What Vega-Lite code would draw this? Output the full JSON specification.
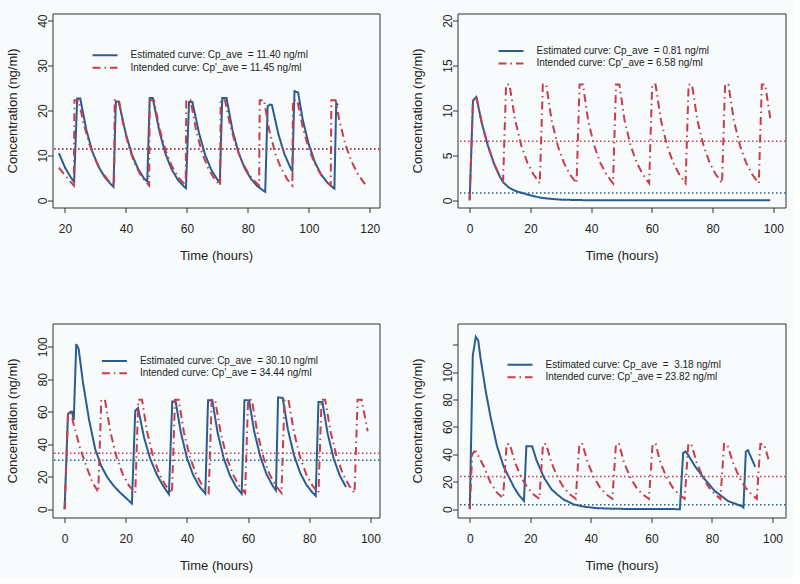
{
  "$schema": "https://vega.github.io/schema/vega-lite/v6.json",
  "background": "#f8fbfc",
  "padding": {"left": 5.5, "top": 12.5, "right": 5, "bottom": 5},
  "columns": 2,
  "spacing": {"row": 116, "column": 78},
  "bounds": "flush",
  "resolve": {
    "scale": {"color": "independent", "strokeDash": "independent", "x": "independent", "y": "independent"},
    "legend": {"color": "independent", "strokeDash": "independent"}
  },
  "datasets": {
    "p1": [
      {"s":"est","t":18,"c":10.5},{"s":"est","t":20,"c":7.3},{"s":"est","t":22,"c":5.0},{"s":"est","t":23,"c":4.1},{"s":"est","t":24,"c":22.7},{"s":"est","t":25,"c":22.7},{"s":"est","t":27,"c":15.7},{"s":"est","t":29,"c":10.8},{"s":"est","t":31,"c":7.5},{"s":"est","t":33,"c":5.2},{"s":"est","t":35,"c":3.6},{"s":"est","t":35.9,"c":3.0},{"s":"est","t":36.7,"c":22.0},{"s":"est","t":37.6,"c":22.0},{"s":"est","t":40,"c":14.7},{"s":"est","t":42,"c":10.1},{"s":"est","t":44,"c":7.0},{"s":"est","t":46,"c":4.8},{"s":"est","t":47.0,"c":4.2},{"s":"est","t":47.8,"c":22.8},{"s":"est","t":48.8,"c":22.8},{"s":"est","t":51,"c":15.3},{"s":"est","t":53,"c":10.3},{"s":"est","t":55,"c":6.9},{"s":"est","t":57,"c":4.6},{"s":"est","t":59,"c":3.1},{"s":"est","t":59.7,"c":2.7},{"s":"est","t":60.7,"c":21.9},{"s":"est","t":61.8,"c":21.9},{"s":"est","t":64,"c":14.9},{"s":"est","t":66,"c":10.1},{"s":"est","t":68,"c":6.8},{"s":"est","t":70,"c":4.6},{"s":"est","t":70.8,"c":4.0},{"s":"est","t":71.6,"c":22.8},{"s":"est","t":73,"c":22.8},{"s":"est","t":75,"c":15.5},{"s":"est","t":77,"c":10.5},{"s":"est","t":79,"c":7.1},{"s":"est","t":81,"c":4.8},{"s":"est","t":83,"c":3.2},{"s":"est","t":85,"c":2.2},{"s":"est","t":85.7,"c":1.9},{"s":"est","t":86.5,"c":21.0},{"s":"est","t":87.2,"c":21.3},{"s":"est","t":87.9,"c":21.2},{"s":"est","t":90,"c":14.8},{"s":"est","t":92,"c":10.3},{"s":"est","t":94,"c":7.2},{"s":"est","t":94.6,"c":6.5},{"s":"est","t":95.3,"c":24.3},{"s":"est","t":96.5,"c":24.0},{"s":"est","t":98,"c":18.0},{"s":"est","t":100,"c":12.4},{"s":"est","t":102,"c":8.5},{"s":"est","t":104,"c":5.8},{"s":"est","t":106,"c":4.0},{"s":"est","t":108,"c":2.8},{"s":"est","t":108.4,"c":2.6},{"s":"est","t":109,"c":21.6},{"s":"est","t":109.6,"c":21.2},
      {"s":"int","t":18,"c":7.3},{"s":"int","t":20,"c":5.6},{"s":"int","t":22,"c":4.0},{"s":"int","t":22.9,"c":3.3},{"s":"int","t":23.1,"c":22.3},{"s":"int","t":24.5,"c":22.3},{"s":"int","t":26,"c":17.4},{"s":"int","t":28,"c":12.5},{"s":"int","t":30,"c":9.0},{"s":"int","t":32,"c":6.4},{"s":"int","t":34,"c":4.6},{"s":"int","t":36.1,"c":3.3},{"s":"int","t":36.3,"c":22.3},{"s":"int","t":37.7,"c":22.3},{"s":"int","t":39,"c":17.3},{"s":"int","t":41,"c":11.8},{"s":"int","t":43,"c":8.0},{"s":"int","t":45,"c":5.4},{"s":"int","t":47.6,"c":3.3},{"s":"int","t":47.8,"c":22.3},{"s":"int","t":49.2,"c":22.3},{"s":"int","t":51,"c":16.0},{"s":"int","t":53,"c":11.1},{"s":"int","t":55,"c":7.7},{"s":"int","t":57,"c":5.3},{"s":"int","t":59.6,"c":3.3},{"s":"int","t":59.8,"c":22.3},{"s":"int","t":61.2,"c":22.3},{"s":"int","t":63,"c":15.6},{"s":"int","t":65,"c":10.5},{"s":"int","t":67,"c":7.1},{"s":"int","t":69,"c":4.8},{"s":"int","t":70.9,"c":3.3},{"s":"int","t":71.1,"c":22.3},{"s":"int","t":72.5,"c":22.3},{"s":"int","t":74,"c":17.3},{"s":"int","t":76,"c":12.3},{"s":"int","t":78,"c":8.7},{"s":"int","t":80,"c":6.2},{"s":"int","t":82,"c":4.4},{"s":"int","t":83.7,"c":3.3},{"s":"int","t":83.9,"c":22.3},{"s":"int","t":85.3,"c":22.3},{"s":"int","t":87,"c":15.7},{"s":"int","t":89,"c":10.4},{"s":"int","t":91,"c":7.0},{"s":"int","t":93,"c":4.6},{"s":"int","t":94.6,"c":3.3},{"s":"int","t":94.8,"c":22.3},{"s":"int","t":96.2,"c":22.3},{"s":"int","t":98,"c":16.3},{"s":"int","t":100,"c":11.5},{"s":"int","t":102,"c":8.1},{"s":"int","t":104,"c":5.7},{"s":"int","t":106,"c":4.0},{"s":"int","t":107.2,"c":3.3},{"s":"int","t":107.4,"c":22.3},{"s":"int","t":108.8,"c":22.3},{"s":"int","t":110,"c":17.9},{"s":"int","t":112,"c":12.4},{"s":"int","t":114,"c":8.7},{"s":"int","t":116,"c":6.0},{"s":"int","t":118,"c":4.0},{"s":"int","t":118.5,"c":3.6}
    ],
    "a1": [{"s":"est","c":11.40},{"s":"int","c":11.45}],
    "p2": [
      {"s":"est","t":0,"c":0},{"s":"est","t":1.1,"c":11.1},{"s":"est","t":2.2,"c":11.5},{"s":"est","t":4,"c":8.6},{"s":"est","t":6,"c":6.1},{"s":"est","t":8,"c":4.1},{"s":"est","t":10,"c":2.6},{"s":"est","t":11.2,"c":1.95},{"s":"est","t":13,"c":1.4},{"s":"est","t":15,"c":1.05},{"s":"est","t":18,"c":0.75},{"s":"est","t":20,"c":0.55},{"s":"est","t":23,"c":0.32},{"s":"est","t":26,"c":0.18},{"s":"est","t":30,"c":0.08},{"s":"est","t":35,"c":0.03},{"s":"est","t":40,"c":0.01},{"s":"est","t":45,"c":0},{"s":"est","t":99,"c":0},
      {"s":"int","t":0,"c":0},{"s":"int","t":1.1,"c":11.1},{"s":"int","t":2.2,"c":11.5},{"s":"int","t":4,"c":8.6},{"s":"int","t":6,"c":6.1},{"s":"int","t":8,"c":4.1},{"s":"int","t":10,"c":2.6},{"s":"int","t":11,"c":2.1},{"s":"int","t":12,"c":12.9},{"s":"int","t":13.1,"c":12.9},{"s":"int","t":15,"c":8.9},{"s":"int","t":17,"c":6.1},{"s":"int","t":19,"c":4.2},{"s":"int","t":21,"c":2.9},{"s":"int","t":23.1,"c":1.9},{"s":"int","t":24.1,"c":12.9},{"s":"int","t":25.2,"c":12.9},{"s":"int","t":27,"c":8.9},{"s":"int","t":29,"c":6.1},{"s":"int","t":31,"c":4.2},{"s":"int","t":33,"c":2.9},{"s":"int","t":35.2,"c":1.9},{"s":"int","t":36.2,"c":12.9},{"s":"int","t":37.3,"c":12.9},{"s":"int","t":39,"c":8.9},{"s":"int","t":41,"c":6.1},{"s":"int","t":43,"c":4.2},{"s":"int","t":45,"c":2.9},{"s":"int","t":47.2,"c":1.9},{"s":"int","t":48.2,"c":12.9},{"s":"int","t":49.3,"c":12.9},{"s":"int","t":51,"c":8.9},{"s":"int","t":53,"c":6.1},{"s":"int","t":55,"c":4.2},{"s":"int","t":57,"c":2.9},{"s":"int","t":59.1,"c":1.9},{"s":"int","t":60.1,"c":12.9},{"s":"int","t":61.2,"c":12.9},{"s":"int","t":63,"c":8.9},{"s":"int","t":65,"c":6.1},{"s":"int","t":67,"c":4.2},{"s":"int","t":69,"c":2.9},{"s":"int","t":71.1,"c":1.9},{"s":"int","t":72.1,"c":12.9},{"s":"int","t":73.2,"c":12.9},{"s":"int","t":75,"c":8.9},{"s":"int","t":77,"c":6.1},{"s":"int","t":79,"c":4.2},{"s":"int","t":81,"c":2.9},{"s":"int","t":83.1,"c":1.9},{"s":"int","t":84.1,"c":12.9},{"s":"int","t":85.2,"c":12.9},{"s":"int","t":87,"c":8.9},{"s":"int","t":89,"c":6.1},{"s":"int","t":91,"c":4.2},{"s":"int","t":93,"c":2.9},{"s":"int","t":95.2,"c":1.9},{"s":"int","t":96.2,"c":12.9},{"s":"int","t":97.3,"c":12.9},{"s":"int","t":99,"c":9.1}
    ],
    "a2": [{"s":"est","c":0.81},{"s":"int","c":6.58}],
    "p3": [
      {"s":"est","t":0,"c":0},{"s":"est","t":1.1,"c":58.6},{"s":"est","t":1.9,"c":60},{"s":"est","t":2.4,"c":60},{"s":"est","t":3,"c":55},{"s":"est","t":3.8,"c":101.6},{"s":"est","t":4.6,"c":98.6},{"s":"est","t":6,"c":78},{"s":"est","t":8,"c":55},{"s":"est","t":10,"c":37},{"s":"est","t":12,"c":26.5},{"s":"est","t":14,"c":19.5},{"s":"est","t":16,"c":14.5},{"s":"est","t":18,"c":10.5},{"s":"est","t":20,"c":7},{"s":"est","t":22,"c":3.5},{"s":"est","t":23.1,"c":60.6},{"s":"est","t":24,"c":62.3},{"s":"est","t":26,"c":44},{"s":"est","t":28,"c":31},{"s":"est","t":30,"c":22},{"s":"est","t":32,"c":15},{"s":"est","t":34.1,"c":9.2},{"s":"est","t":35.2,"c":66.3},{"s":"est","t":36.3,"c":66.3},{"s":"est","t":38,"c":47.3},{"s":"est","t":40,"c":31.6},{"s":"est","t":42,"c":21.2},{"s":"est","t":44,"c":14.2},{"s":"est","t":46,"c":9.6},{"s":"est","t":46.9,"c":67},{"s":"est","t":48.3,"c":67},{"s":"est","t":50,"c":47.3},{"s":"est","t":52,"c":31.5},{"s":"est","t":54,"c":21},{"s":"est","t":56,"c":14},{"s":"est","t":57.9,"c":9.5},{"s":"est","t":58.8,"c":67},{"s":"est","t":60.3,"c":67},{"s":"est","t":62,"c":47.8},{"s":"est","t":64,"c":32.2},{"s":"est","t":66,"c":21.6},{"s":"est","t":68,"c":14.5},{"s":"est","t":69.1,"c":11.6},{"s":"est","t":69.8,"c":68.8},{"s":"est","t":71.3,"c":68.5},{"s":"est","t":73,"c":49.2},{"s":"est","t":75,"c":33.2},{"s":"est","t":77,"c":22.5},{"s":"est","t":79,"c":15.2},{"s":"est","t":81,"c":10.3},{"s":"est","t":82.1,"c":8.2},{"s":"est","t":83,"c":66},{"s":"est","t":84.3,"c":66},{"s":"est","t":86,"c":46.6},{"s":"est","t":88,"c":31},{"s":"est","t":90,"c":20.6},{"s":"est","t":92,"c":13.7},
      {"s":"int","t":0,"c":0},{"s":"int","t":1.1,"c":58},{"s":"int","t":2,"c":60},{"s":"int","t":3,"c":52},{"s":"int","t":5,"c":38},{"s":"int","t":7,"c":27},{"s":"int","t":9,"c":17},{"s":"int","t":11,"c":10.5},{"s":"int","t":12,"c":67.3},{"s":"int","t":13.2,"c":67.3},{"s":"int","t":15,"c":47.4},{"s":"int","t":17,"c":32},{"s":"int","t":19,"c":21.6},{"s":"int","t":21,"c":14.6},{"s":"int","t":23.1,"c":10},{"s":"int","t":24.1,"c":67.3},{"s":"int","t":25.3,"c":67.3},{"s":"int","t":27,"c":47.4},{"s":"int","t":29,"c":32},{"s":"int","t":31,"c":21.6},{"s":"int","t":33,"c":14.6},{"s":"int","t":35.1,"c":10},{"s":"int","t":36.1,"c":67.3},{"s":"int","t":37.3,"c":67.3},{"s":"int","t":39,"c":47.4},{"s":"int","t":41,"c":32},{"s":"int","t":43,"c":21.6},{"s":"int","t":45,"c":14.6},{"s":"int","t":47.1,"c":10},{"s":"int","t":48.1,"c":67.3},{"s":"int","t":49.2,"c":67.3},{"s":"int","t":51,"c":47.4},{"s":"int","t":53,"c":32},{"s":"int","t":55,"c":21.6},{"s":"int","t":57,"c":14.6},{"s":"int","t":59,"c":10},{"s":"int","t":60,"c":67.3},{"s":"int","t":61.2,"c":67.3},{"s":"int","t":63,"c":47.4},{"s":"int","t":65,"c":32},{"s":"int","t":67,"c":21.6},{"s":"int","t":69,"c":14.6},{"s":"int","t":70.9,"c":10},{"s":"int","t":71.9,"c":67.3},{"s":"int","t":73.2,"c":67.3},{"s":"int","t":75,"c":47.4},{"s":"int","t":77,"c":32},{"s":"int","t":79,"c":21.6},{"s":"int","t":81,"c":14.6},{"s":"int","t":83,"c":10},{"s":"int","t":84,"c":67.3},{"s":"int","t":85.2,"c":67.3},{"s":"int","t":87,"c":47.4},{"s":"int","t":89,"c":32},{"s":"int","t":91,"c":21.6},{"s":"int","t":93,"c":14.6},{"s":"int","t":94.8,"c":10},{"s":"int","t":95.8,"c":67.3},{"s":"int","t":97.1,"c":67.3},{"s":"int","t":99.1,"c":48}
    ],
    "a3": [{"s":"est","c":30.10},{"s":"int","c":34.44}],
    "p4": [
      {"s":"est","t":0,"c":0},{"s":"est","t":1,"c":112},{"s":"est","t":2,"c":125.6},{"s":"est","t":2.8,"c":123},{"s":"est","t":3.5,"c":111},{"s":"est","t":5.2,"c":87},{"s":"est","t":6.8,"c":68},{"s":"est","t":9,"c":46},{"s":"est","t":11.2,"c":31},{"s":"est","t":14.6,"c":16},{"s":"est","t":16.3,"c":10},{"s":"est","t":17.9,"c":6},{"s":"est","t":18.7,"c":45.9},{"s":"est","t":20.6,"c":45.9},{"s":"est","t":22,"c":36},{"s":"est","t":24.5,"c":23},{"s":"est","t":27,"c":14.5},{"s":"est","t":29,"c":10.5},{"s":"est","t":31,"c":7},{"s":"est","t":34.4,"c":3.4},{"s":"est","t":38,"c":1.7},{"s":"est","t":42,"c":0.7},{"s":"est","t":48,"c":0.25},{"s":"est","t":55,"c":0.08},{"s":"est","t":69.4,"c":0},{"s":"est","t":70.5,"c":41},{"s":"est","t":71.3,"c":42},{"s":"est","t":72,"c":40},{"s":"est","t":74.4,"c":31.3},{"s":"est","t":77.7,"c":21.6},{"s":"est","t":81,"c":13.1},{"s":"est","t":85.4,"c":5.8},{"s":"est","t":89.8,"c":2.2},{"s":"est","t":90.4,"c":1.2},{"s":"est","t":91.2,"c":42},{"s":"est","t":91.9,"c":43},{"s":"est","t":94.3,"c":30.8},
      {"s":"int","t":0,"c":0},{"s":"int","t":0.8,"c":40},{"s":"int","t":1.5,"c":42},{"s":"int","t":2.1,"c":42},{"s":"int","t":4.6,"c":31.3},{"s":"int","t":6.8,"c":19.5},{"s":"int","t":9,"c":12},{"s":"int","t":11,"c":8},{"s":"int","t":12.2,"c":47.5},{"s":"int","t":13.2,"c":47.5},{"s":"int","t":15,"c":33.8},{"s":"int","t":17,"c":23.2},{"s":"int","t":19,"c":15.9},{"s":"int","t":21,"c":10.9},{"s":"int","t":23,"c":7.5},{"s":"int","t":24.2,"c":47.5},{"s":"int","t":25.2,"c":47.5},{"s":"int","t":27,"c":33.8},{"s":"int","t":29,"c":23.2},{"s":"int","t":31,"c":15.9},{"s":"int","t":33,"c":10.9},{"s":"int","t":35,"c":7.5},{"s":"int","t":36.2,"c":47.5},{"s":"int","t":37.2,"c":47.5},{"s":"int","t":39,"c":33.8},{"s":"int","t":41,"c":23.2},{"s":"int","t":43,"c":15.9},{"s":"int","t":45,"c":10.9},{"s":"int","t":47.1,"c":7.5},{"s":"int","t":48.3,"c":47.5},{"s":"int","t":49.3,"c":47.5},{"s":"int","t":51,"c":33.8},{"s":"int","t":53,"c":23.2},{"s":"int","t":55,"c":15.9},{"s":"int","t":57,"c":10.9},{"s":"int","t":59.2,"c":7.5},{"s":"int","t":60.4,"c":47.5},{"s":"int","t":61.4,"c":47.5},{"s":"int","t":63,"c":33.8},{"s":"int","t":65,"c":23.2},{"s":"int","t":67,"c":15.9},{"s":"int","t":69,"c":10.9},{"s":"int","t":71,"c":7.5},{"s":"int","t":72.2,"c":47.5},{"s":"int","t":73.2,"c":47.5},{"s":"int","t":75,"c":33.8},{"s":"int","t":77,"c":23.2},{"s":"int","t":79,"c":15.9},{"s":"int","t":81,"c":10.9},{"s":"int","t":82.8,"c":7.5},{"s":"int","t":84,"c":47.5},{"s":"int","t":85,"c":47.5},{"s":"int","t":87,"c":33.8},{"s":"int","t":89,"c":23.2},{"s":"int","t":91,"c":15.9},{"s":"int","t":93,"c":10.9},{"s":"int","t":94.8,"c":7.5},{"s":"int","t":96,"c":47.5},{"s":"int","t":97.2,"c":47.5},{"s":"int","t":99,"c":34}
    ],
    "a4": [{"s":"est","c":3.18},{"s":"int","c":23.82}]
  },
  "concat": [
    {
      "width": 327, "height": 194,
      "encoding": {
        "y": {"field": "c", "type": "quantitative", "scale": {"domain": [-1.6, 41.6], "nice": false, "zero": false}, "axis": {"values": [0, 10, 20, 30, 40], "title": "Concentration (ng/ml)"}},
        "color": {"field": "s", "type": "nominal", "scale": {"domain": ["est", "int"], "range": ["#2a5d8f", "#c83c4c"]},
          "legend": {"legendX": 39, "legendY": 35.8, "labelExpr": "datum.value == 'est' ? \"Estimated curve: Cp_ave\u00a0 = 11.40 ng/ml\" : \"Intended curve: Cp'_ave = 11.45 ng/ml\""}}
      },
      "layer": [
        {"data": {"name": "p1"}, "transform": [{"filter": "datum.s == 'est'"}], "mark": {"type": "line", "strokeWidth": 2},
          "encoding": {"x": {"field": "t", "type": "quantitative", "scale": {"domain": [15.9, 123.2], "nice": false, "zero": false}, "axis": {"values": [20, 40, 60, 80, 100, 120], "title": "Time (hours)"}},
            "strokeDash": {"field": "s", "type": "nominal", "scale": {"domain": ["est", "int"], "range": [[1, 0], [8, 4, 1.5, 4]]}, "legend": {"legendX": 39, "legendY": 35.8, "labelExpr": "datum.value == 'est' ? \"Estimated curve: Cp_ave\u00a0 = 11.40 ng/ml\" : \"Intended curve: Cp'_ave = 11.45 ng/ml\""}}}},
        {"data": {"name": "p1"}, "transform": [{"filter": "datum.s == 'int'"}], "mark": {"type": "line", "strokeWidth": 2},
          "encoding": {"x": {"field": "t", "type": "quantitative"}, "strokeDash": {"field": "s", "type": "nominal"}}},
        {"data": {"name": "a1"}, "mark": {"type": "rule", "strokeDash": [1.5, 2.5], "strokeWidth": 1.5}, "encoding": {}}
      ]
    },
    {
      "width": 328, "height": 194,
      "encoding": {
        "y": {"field": "c", "type": "quantitative", "scale": {"domain": [-0.8, 20.8], "nice": false, "zero": false}, "axis": {"values": [0, 5, 10, 15, 20], "title": "Concentration (ng/ml)"}},
        "color": {"field": "s", "type": "nominal", "scale": {"domain": ["est", "int"], "range": ["#2a5d8f", "#c83c4c"]},
          "legend": {"legendX": 40, "legendY": 31.5, "labelExpr": "datum.value == 'est' ? \"Estimated curve: Cp_ave\u00a0 = 0.81 ng/ml\" : \"Intended curve: Cp'_ave = 6.58 ng/ml\""}}
      },
      "layer": [
        {"data": {"name": "p2"}, "transform": [{"filter": "datum.s == 'est'"}], "mark": {"type": "line", "strokeWidth": 2},
          "encoding": {"x": {"field": "t", "type": "quantitative", "scale": {"domain": [-4, 104], "nice": false, "zero": false}, "axis": {"values": [0, 20, 40, 60, 80, 100], "title": "Time (hours)"}},
            "strokeDash": {"field": "s", "type": "nominal", "scale": {"domain": ["est", "int"], "range": [[1, 0], [8, 4, 1.5, 4]]}, "legend": {"legendX": 40, "legendY": 31.5, "labelExpr": "datum.value == 'est' ? \"Estimated curve: Cp_ave\u00a0 = 0.81 ng/ml\" : \"Intended curve: Cp'_ave = 6.58 ng/ml\""}}}},
        {"data": {"name": "p2"}, "transform": [{"filter": "datum.s == 'int'"}], "mark": {"type": "line", "strokeWidth": 2},
          "encoding": {"x": {"field": "t", "type": "quantitative"}, "strokeDash": {"field": "s", "type": "nominal"}}},
        {"data": {"name": "a2"}, "mark": {"type": "rule", "strokeDash": [1.5, 2.5], "strokeWidth": 1.5}, "encoding": {}}
      ]
    },
    {
      "width": 327, "height": 194,
      "encoding": {
        "y": {"field": "c", "type": "quantitative", "scale": {"domain": [-5.1, 114.3], "nice": false, "zero": false}, "axis": {"values": [0, 20, 40, 60, 80, 100], "title": "Concentration (ng/ml)"}},
        "color": {"field": "s", "type": "nominal", "scale": {"domain": ["est", "int"], "range": ["#2a5d8f", "#c83c4c"]},
          "legend": {"legendX": 48.4, "legendY": 31.4, "labelExpr": "datum.value == 'est' ? \"Estimated curve: Cp_ave\u00a0 = 30.10 ng/ml\" : \"Intended curve: Cp'_ave = 34.44 ng/ml\""}}
      },
      "layer": [
        {"data": {"name": "p3"}, "transform": [{"filter": "datum.s == 'est'"}], "mark": {"type": "line", "strokeWidth": 2},
          "encoding": {"x": {"field": "t", "type": "quantitative", "scale": {"domain": [-3.96, 102.96], "nice": false, "zero": false}, "axis": {"values": [0, 20, 40, 60, 80, 100], "title": "Time (hours)"}},
            "strokeDash": {"field": "s", "type": "nominal", "scale": {"domain": ["est", "int"], "range": [[1, 0], [8, 4, 1.5, 4]]}, "legend": {"legendX": 48.4, "legendY": 31.4, "labelExpr": "datum.value == 'est' ? \"Estimated curve: Cp_ave\u00a0 = 30.10 ng/ml\" : \"Intended curve: Cp'_ave = 34.44 ng/ml\""}}}},
        {"data": {"name": "p3"}, "transform": [{"filter": "datum.s == 'int'"}], "mark": {"type": "line", "strokeWidth": 2},
          "encoding": {"x": {"field": "t", "type": "quantitative"}, "strokeDash": {"field": "s", "type": "nominal"}}},
        {"data": {"name": "a3"}, "mark": {"type": "rule", "strokeDash": [1.5, 2.5], "strokeWidth": 1.5}, "encoding": {}}
      ]
    },
    {
      "width": 328, "height": 194,
      "encoding": {
        "y": {"field": "c", "type": "quantitative", "scale": {"domain": [-6.1, 135.4], "nice": false, "zero": false}, "axis": {"values": [0, 20, 40, 60, 80, 100, 120], "labelExpr": "datum.value == 120 ? '' : datum.label", "title": "Concentration (ng/ml)"}},
        "color": {"field": "s", "type": "nominal", "scale": {"domain": ["est", "int"], "range": ["#2a5d8f", "#c83c4c"]},
          "legend": {"legendX": 49, "legendY": 35.3, "labelExpr": "datum.value == 'est' ? \"Estimated curve: Cp_ave\u00a0 = \u00a03.18 ng/ml\" : \"Intended curve: Cp'_ave = 23.82 ng/ml\""}}
      },
      "layer": [
        {"data": {"name": "p4"}, "transform": [{"filter": "datum.s == 'est'"}], "mark": {"type": "line", "strokeWidth": 2},
          "encoding": {"x": {"field": "t", "type": "quantitative", "scale": {"domain": [-4.05, 104.3], "nice": false, "zero": false}, "axis": {"values": [0, 20, 40, 60, 80, 100], "title": "Time (hours)"}},
            "strokeDash": {"field": "s", "type": "nominal", "scale": {"domain": ["est", "int"], "range": [[1, 0], [8, 4, 1.5, 4]]}, "legend": {"legendX": 49, "legendY": 35.3, "labelExpr": "datum.value == 'est' ? \"Estimated curve: Cp_ave\u00a0 = \u00a03.18 ng/ml\" : \"Intended curve: Cp'_ave = 23.82 ng/ml\""}}}},
        {"data": {"name": "p4"}, "transform": [{"filter": "datum.s == 'int'"}], "mark": {"type": "line", "strokeWidth": 2},
          "encoding": {"x": {"field": "t", "type": "quantitative"}, "strokeDash": {"field": "s", "type": "nominal"}}},
        {"data": {"name": "a4"}, "mark": {"type": "rule", "strokeDash": [1.5, 2.5], "strokeWidth": 1.5}, "encoding": {}}
      ]
    }
  ],
  "config": {
    "font": "Liberation Sans",
    "view": {"stroke": "#333333", "strokeWidth": 1},
    "axis": {"grid": false, "domain": false, "tickSize": 5, "tickColor": "#333333", "tickWidth": 1, "labelFontSize": 12, "labelColor": "#222222", "titleFontSize": 13, "titleFontWeight": "normal", "titleColor": "#222222", "labelFlush": false, "labelOverlap": false, "labelBound": false},
    "axisX": {"labelPadding": 11, "titlePadding": 14.5},
    "axisY": {"labelAngle": -90, "labelAlign": "center", "labelBaseline": "alphabetic", "labelPadding": 1, "titlePadding": 17.3},
    "legend": {"orient": "none", "title": null, "symbolType": "stroke", "symbolSize": 625, "symbolStrokeWidth": 2, "labelFontSize": 10, "labelColor": "#222222", "labelOffset": 12, "labelLimit": 400, "padding": 0, "rowPadding": 0.4, "clipHeight": 12}
  }
}
